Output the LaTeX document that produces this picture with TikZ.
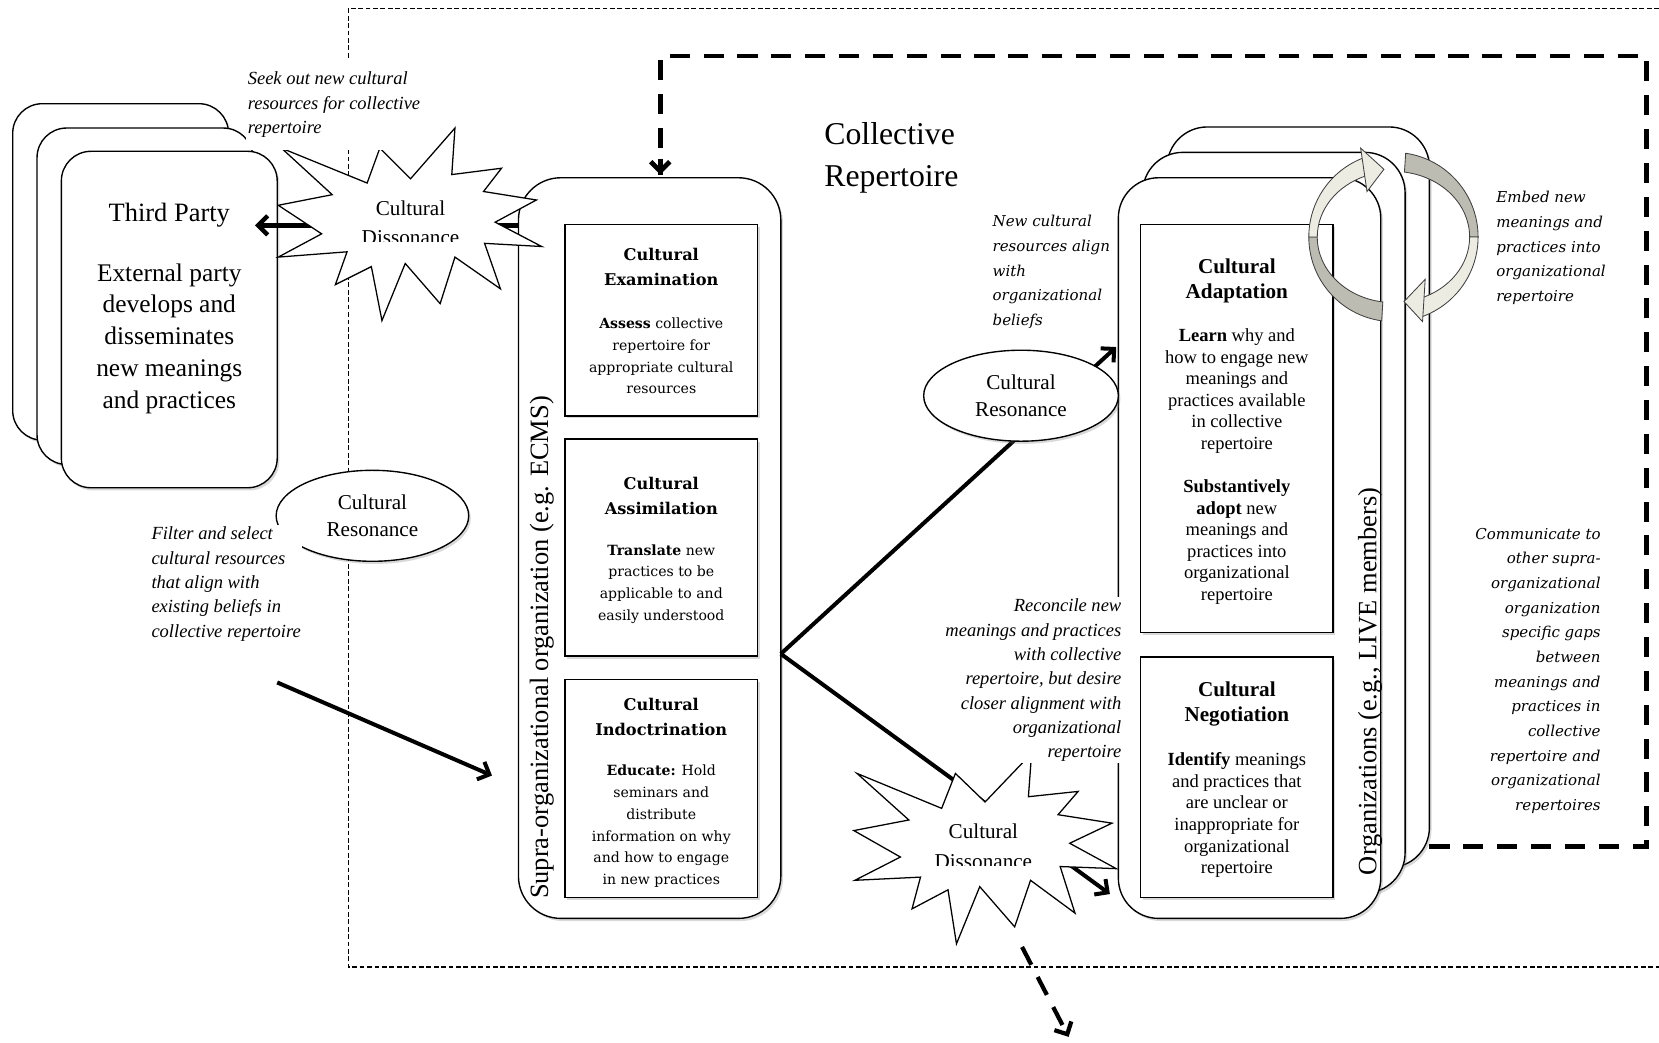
\documentclass[tikz,border=0pt]{standalone}
\usepackage{fontspec}
\setmainfont{Liberation Serif}
\newfontfamily\schfont{DejaVu Serif}
\usetikzlibrary{arrows.meta,positioning,calc,shapes.geometric,shadows}

\definecolor{ringgrey}{RGB}{189,188,178}
\definecolor{ringlight}{RGB}{237,236,227}
\newcommand{\fsz}[2]{\fontsize{#1}{#2}\selectfont}

\begin{document}
\begin{tikzpicture}[x=1pt,y=-1pt,
    boxshadow/.style={drop shadow={shadow xshift=2pt,shadow yshift=-2.5pt,opacity=.3}},
    card/.style={draw,fill=white,line width=1.3pt,rounded corners=28pt,minimum width=204pt,minimum height=318pt,boxshadow},
    tower/.style={draw,fill=white,line width=1.3pt,rounded corners=40pt,minimum width=248pt,minimum height=700pt,boxshadow},
    stage/.style={draw,fill=white,line width=1.3pt,minimum width=182pt,boxshadow},
    stagehead/.style={font=\schfont\bfseries\fsz{15.3}{24},align=center},
    stagetext/.style={font=\schfont\fsz{13.3}{20.5},align=center},
    orghead/.style={font=\bfseries\fsz{20}{23},align=center},
    orgtext/.style={font=\fsz{17.5}{20.4},align=center},
    sidelbl/.style={font=\fsz{25}{30},rotate=90},
    bubble/.style={ellipse,draw,fill=white,line width=1.3pt,minimum width=182pt,minimum height=86pt,boxshadow,font=\fsz{20}{26},align=center},
    burst/.style={draw,fill=white,line width=1.2pt},
    burstlbl/.style={font=\fsz{20}{27.8},align=center},
    conn/.style={line width=3.8pt,-{Straight Barb[length=9pt,width=18pt]}},
    bigdash/.style={line width=4.5pt,dash pattern=on 19pt off 13pt},
    frame/.style={line width=1.1pt,dash pattern=on 4.5pt off 2.5pt},
    note/.style={font=\fsz{17.5}{23}\itshape,inner sep=1.5pt},
    widenote/.style={font=\schfont\fsz{14.2}{23.3}\itshape,inner sep=1.5pt},
    ribbon/.style={draw=black!75,line width=.8pt}]
    \useasboundingbox (0,0) rectangle (1568,985);

    % outer frame of the collective repertoire
    \draw[frame] (1575,8) -- (329,8) -- (329,914) -- (1575,914);

    % third party
    \node[card] (tp1) at (114,257) {};
    \node[card] (tp2) at (137,280) {};
    \node[card] (tp3) at (160,302) {};
    \node[font=\fsz{25}{30}] (tphead) at (160,203) {Third Party};
    \node[font=\fsz{24}{30},align=center] (tpbody) at (160,320) {External party\\develops and\\disseminates\\new meanings\\and practices};

    % supra-organizational organization
    \node[tower] (supra) at (614,518) {};
    \node[sidelbl] (supralbl) at (512,612) {Supra-organizational organization (e.g. ECMS)};
    \node[stage,minimum height=181pt] (exam) at (625,302.5) {};
    \node[stage,minimum height=205pt] (assim) at (625,517.5) {};
    \node[stage,minimum height=206pt] (indoc) at (625,745) {};
    \node[stagehead] (examhead) at (625,252.5) {Cultural\\Examination};
    \node[stagetext] (examtext) at (625,336.5) {\textbf{Assess} collective\\repertoire for\\appropriate cultural\\resources};
    \node[stagehead] (assimhead) at (625,468.5) {Cultural\\Assimilation};
    \node[stagetext] (assimtext) at (625,552) {\textbf{Translate} new\\practices to be\\applicable to and\\easily understood};
    \node[stagehead] (indochead) at (625,677.5) {Cultural\\Indoctrination};
    \node[stagetext] (indoctext) at (625,781) {\textbf{Educate:} Hold\\seminars and\\distribute\\information on why\\and how to engage\\in new practices};

    % organizations
    \node[tower,rounded corners=38pt] (org1) at (1227,470) {};
    \node[tower,rounded corners=38pt] (org2) at (1204,494) {};
    \node[tower,rounded corners=38pt] (org3) at (1181,518) {};
    \node[stage,minimum height=386pt] (adapt) at (1169,405) {};
    \node[stage,minimum height=227pt] (negot) at (1169,734.5) {};
    \node[orghead] (adapthead) at (1169,265.5) {Cultural\\Adaptation};
    \node[orgtext] (adapttext) at (1169,441) {\textbf{Learn} why and\\how to engage new\\meanings and\\practices available\\in collective\\repertoire\\[20.4pt]\textbf{Substantively}\\\textbf{adopt} new\\meanings and\\practices into\\organizational\\repertoire};
    \node[orghead] (negothead) at (1169,665.5) {Cultural\\Negotiation};
    \node[orgtext] (negottext) at (1169,770.5) {\textbf{Identify} meanings\\and practices that\\are unclear or\\inappropriate for\\organizational\\repertoire};
    \node[sidelbl] (orglbl) at (1295,644) {Organizations (e.g., LIVE members)};

    % connectors
    \coordinate (fork) at (738,618);
    \coordinate (supraout) at (490,213);
    \coordinate (tpin) at (241,213);
    \coordinate (filterout) at (262,645);
    \coordinate (suprain) at (465,733);
    \coordinate (adaptin) at (1055,328);
    \coordinate (negotin) at (1049,845);
    \coordinate (loopstart) at (1351,800);
    \coordinate (supratop) at (624,165);
    \coordinate (disfoot) at (966,895);
    \coordinate (outside) at (1010,980);
    \draw[conn,line width=4.2pt] (supraout) -- (tpin);
    \draw[conn] (filterout) -- (suprain);
    \draw[conn] (fork) -- (adaptin);
    \draw[conn] (fork) -- (negotin);
    \draw[bigdash] (loopstart) -- (1556,800) -- (1556,53) -- (624,53) -- (supratop);
    \draw[line width=4.5pt,-{Straight Barb[length=9pt,width=18pt]}] (624,150) -- (supratop);
    \draw[bigdash,line width=4pt,-{Straight Barb[length=9pt,width=18pt]}] (disfoot) -- (outside);

    % dissonance bursts
    \draw[burst] (266,140) -- (347,173) -- (359,140) -- (388,169) -- (430,121) -- (427,165) -- (474,159) -- (457,181) -- (507,189) -- (468,210) -- (512,233) -- (458,230) -- (473,273) -- (430,243) -- (416,287) -- (383,249) -- (361,303) -- (351,252) -- (317,269) -- (328,238) -- (263,243) -- (304,221) -- (263,194) -- (314,184) -- cycle;
    \begin{scope}
        \clip (300,150) rectangle (480,228.5);
        \node[burstlbl] (dis1) at (388,210.5) {Cultural\\Dissonance};
    \end{scope}
    \draw[burst] (810,731) -- (890,764) -- (903,731) -- (931,758) -- (975,712) -- (972,753) -- (1019,748) -- (1000,770) -- (1051,778) -- (1011,797) -- (1055,821) -- (1002,819) -- (1016,863) -- (974,832) -- (959,876) -- (926,838) -- (904,892) -- (896,841) -- (862,859) -- (870,829) -- (808,832) -- (851,810) -- (807,785) -- (859,775) -- cycle;
    \begin{scope}
        \clip (840,740) rectangle (1020,817.6);
        \node[burstlbl] (dis2) at (929.4,800) {Cultural\\Dissonance};
    \end{scope}

    % resonance
    \node[bubble] (res1) at (352,487.5) {Cultural\\Resonance};
    \node[bubble,minimum width=184pt] (res2) at (965,374) {Cultural\\Resonance};

    % embedding loop
    \coordinate (ringc) at (1317,224);
    \filldraw[ribbon,fill=ringgrey] ($(ringc)+(98:80)$) arc[start angle=98,end angle=180,radius=80] -- ($(ringc)+(180:72 and 62)$) arc[start angle=180,end angle=98,x radius=72,y radius=62] -- cycle;
    \filldraw[ribbon,fill=ringlight] ($(ringc)+(180:80)$) arc[start angle=180,end angle=249,radius=80] -- ($(ringc)+(249:72 and 62)$) arc[start angle=249,end angle=180,x radius=72,y radius=62] -- cycle;
    \filldraw[ribbon,fill=ringlight] (1286,140) -- (1308,160) -- (1292,181) -- cycle;
    \filldraw[ribbon,fill=ringgrey] ($(ringc)+(278.3:80)$) arc[start angle=278.3,end angle=360,radius=80] -- ($(ringc)+(0:72 and 62)$) arc[start angle=360,end angle=278.3,x radius=72,y radius=62] -- cycle;
    \filldraw[ribbon,fill=ringlight] ($(ringc)+(0:80)$) arc[start angle=0,end angle=70,radius=80] -- ($(ringc)+(70:72 and 62)$) arc[start angle=70,end angle=0,x radius=72,y radius=62] -- cycle;
    \filldraw[ribbon,fill=ringlight] (1347,264) -- (1327,285) -- (1344.5,304) -- cycle;

    % annotations
    \node[font=\fsz{30}{40},align=left,anchor=west,inner sep=0pt] (title) at (779,149.5) {Collective\\Repertoire};
    \node[note,align=left,anchor=west,fill=white,inner ysep=12pt] (seek) at (232.5,99) {Seek out new cultural\\resources for collective\\repertoire};
    \node[note,align=left,anchor=west,fill=white] (filter) at (141.5,552) {Filter and select\\cultural resources\\that align with\\existing beliefs in\\collective repertoire};
    \node[widenote,align=left,anchor=west] (newcult) at (936.5,257) {New cultural\\resources align\\with\\organizational\\beliefs};
    \node[note,align=right,anchor=east,fill=white,inner xsep=3pt] (reconcile) at (1063,643) {Reconcile new\\meanings and practices\\with collective\\repertoire, but desire\\closer alignment with\\organizational\\repertoire};
    \node[widenote,align=left,anchor=west] (embed) at (1412.5,234.5) {Embed new\\meanings and\\practices into\\organizational\\repertoire};
    \node[widenote,align=right,anchor=east] (communicate) at (1514.5,634) {Communicate to\\other supra-\\organizational\\organization\\specific gaps\\between\\meanings and\\practices in\\collective\\repertoire and\\organizational\\repertoires};
\end{tikzpicture}
\end{document}
